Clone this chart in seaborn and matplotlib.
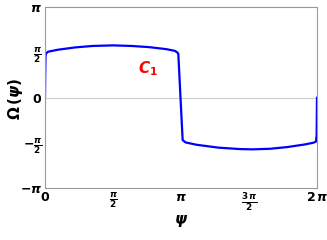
import numpy as np
import pandas as pd
import matplotlib
matplotlib.use('Agg')
import matplotlib.pyplot as plt
import seaborn as sns

# curve (psi, Omega)
psi = [0.0, 0.005, 0.012, 0.02, 0.07, 0.3, 0.7, 1.1, 1.57, 2.0, 2.4, 2.8, 3.0, 3.06, 3.08,
       3.13, 3.18, 3.25, 3.5, 4.0, 4.5, 4.8, 5.2, 5.6, 6.0, 6.2, 6.26, 6.275, 6.283]
omega = [0.0, 0.8, 1.40, 1.52, 1.59, 1.66, 1.74, 1.79, 1.81, 1.79, 1.75, 1.68, 1.62, 1.56, 1.51,
         0.0, -1.48, -1.56, -1.64, -1.74, -1.79, -1.80, -1.78, -1.72, -1.63, -1.57, -1.53, -1.3, 0.0]

xticks = [0, np.pi/2, np.pi, 3*np.pi/2, 2*np.pi]
xticklabels = [r'$0$', r'$\frac{\pi}{2}$', r'$\pi$', r'$\frac{3\,\pi}{2}$', r'$2\,\pi$']
yticks = [-np.pi, -np.pi/2, 0, np.pi/2, np.pi]
yticklabels = [r'$-\pi$', r'$-\frac{\pi}{2}$', r'$0$', r'$\frac{\pi}{2}$', r'$\pi$']

df = pd.DataFrame({'psi': psi, 'omega': omega})

sns.set_style('white')
plt.rcParams['font.family'] = ['DejaVu Sans']
plt.rcParams['mathtext.fontset'] = 'custom'
plt.rcParams['mathtext.rm'] = 'DejaVu Sans:bold'
plt.rcParams['mathtext.it'] = 'DejaVu Sans:bold:italic'
plt.rcParams['mathtext.bf'] = 'DejaVu Sans:bold'

fig = plt.figure(figsize=(3.27, 2.4), dpi=100)
ax = fig.add_axes([0.1376, 0.2167, 0.8318, 0.754])

ax.axhline(0, color='#cccccc', lw=0.8, zorder=0)
sns.lineplot(data=df, x='psi', y='omega', sort=False, color='#0000ff', lw=1.6, ax=ax)

ax.set_xlim(0, 2*np.pi)
ax.set_ylim(-np.pi, np.pi)
ax.set_xticks(xticks)
ax.set_xticklabels(xticklabels)
ax.set_yticks(yticks)
ax.set_yticklabels(yticklabels)
ax.tick_params(direction='in', length=3, width=0.6, color='#aaaaaa', labelcolor='black',
               labelsize=9, pad=2)

for s in ax.spines.values():
    s.set_color('#999999')
    s.set_linewidth(0.8)

ax.set_xlabel(r'$\psi$', fontsize=11, color='black', va='center')
ax.set_ylabel(r'$\Omega\,(\psi)$', fontsize=11, color='black', va='center', ha='center')
ax.xaxis.set_label_coords(0.5, -0.18)
ax.yaxis.set_label_coords(-0.11, 0.49)

ax.text(2.38, 1.0, r'$C_1$', color='red', fontsize=11, ha='center', va='center')

fig.savefig('out.png', dpi=100)
